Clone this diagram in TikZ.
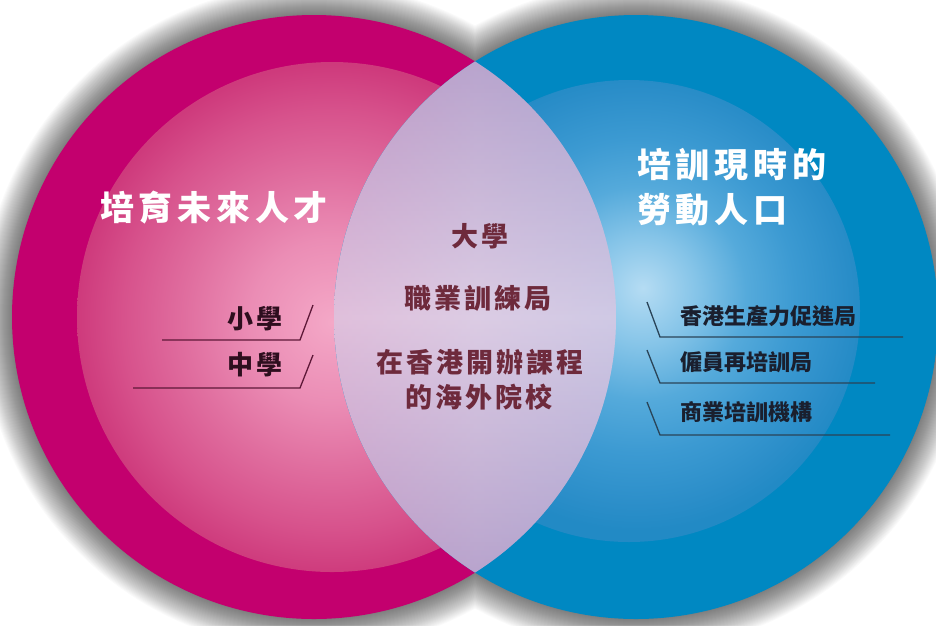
\documentclass[tikz,border=0pt]{standalone}
\usepackage{fontspec}
\newfontfamily\cjk{Noto Sans CJK TC}
\definecolor{magOuter}{HTML}{C3006E}
\definecolor{pinkA}{HTML}{F4A8C7}
\definecolor{pinkB}{HTML}{EB8DB5}
\definecolor{pinkC}{HTML}{E06E9F}
\definecolor{pinkD}{HTML}{D7528C}
\definecolor{pinkE}{HTML}{CE3A7C}
\definecolor{blueOuter}{HTML}{0088C2}
\definecolor{blueA}{HTML}{B5DCF3}
\definecolor{blueB}{HTML}{85C4E8}
\definecolor{blueC}{HTML}{55AADB}
\definecolor{blueD}{HTML}{3C9AD2}
\definecolor{blueE}{HTML}{2B8EC9}
\definecolor{blueF}{HTML}{228AC5}
\definecolor{lavD}{HTML}{9C84BB}
\definecolor{lavL}{HTML}{DCCCE4}
\definecolor{lensPink}{HTML}{E8A8CC}
\definecolor{lensBlue}{HTML}{B8C4E6}
\definecolor{midText}{HTML}{6E2A3C}
\definecolor{leftText}{HTML}{2E0E1E}
\definecolor{rightText}{HTML}{1A1F2E}
\definecolor{leftLine}{HTML}{5E1838}
\definecolor{rightLine}{HTML}{2A4458}
\pgfdeclareradialshading{pinkglow}{\pgfpoint{0bp}{-0.5bp}}{color(0bp)=(pinkA); color(8bp)=(pinkB); color(14.5bp)=(pinkC); color(20.5bp)=(pinkD); color(25bp)=(pinkE); color(50bp)=(pinkE)}
\pgfdeclareradialshading{blueglow}{\pgfpoint{1.5bp}{2.5bp}}{color(0bp)=(blueA); color(6bp)=(blueB); color(11.5bp)=(blueC); color(17bp)=(blueD); color(22.5bp)=(blueE); color(25bp)=(blueF); color(50bp)=(blueF)}
\tikzset{
  ttl/.style={text=white, inner sep=0pt, font=\cjk\bfseries\fontsize{34}{40}\selectfont\addfontfeature{LetterSpace=14}},
  midlbl/.style={text=midText, inner sep=0pt, font=\cjk\bfseries\fontsize{27}{32}\selectfont\addfontfeature{LetterSpace=11}},
  leftlbl/.style={text=leftText, inner sep=0pt, font=\cjk\bfseries\fontsize{26}{30}\selectfont\addfontfeature{LetterSpace=12}},
  rightlbl/.style={text=rightText, inner sep=0pt, font=\cjk\bfseries\fontsize{22}{26}\selectfont},
  leftrule/.style={draw=leftLine, line width=1.3pt},
  rightrule/.style={draw=rightLine, line width=1.3pt}
}
\begin{document}
\begin{tikzpicture}[x=1pt,y=-1pt]
\fill[white] (0,0) rectangle (936,625);
\useasboundingbox (0,0) rectangle (936,625);
\coordinate (L) at (314,317);
\coordinate (R) at (636,317);
% soft shadow
\foreach \k in {1,...,32} {
  \fill[black,opacity=0.018] (L) circle[radius=301+\k] (R) circle[radius=301+\k];
}
% left circle
\fill[magOuter] (L) circle[radius=302];
\shade[shading=pinkglow] (332,317) circle[radius=255];
% right circle
\fill[blueOuter] (R) circle[radius=302];
\shade[shading=blueglow] (629,311) circle[radius=231];
% lens
\begin{scope}
  \clip (L) circle[radius=302];
  \clip (R) circle[radius=302];
  \shade[top color=lavD, bottom color=lavD, middle color=lavL] (334,15) rectangle (616,619);
  \shade[left color=lensPink, right color=lensBlue, middle color=lavL, opacity=0.35] (334,15) rectangle (616,619);
\end{scope}
% titles
\node[ttl] (tl) at (214,207.5) {培育未來人才};
\node[ttl, anchor=west] (tr1) at (637,165) {培訓現時的};
\node[ttl, anchor=west] (tr2) at (637,210) {勞動人口};
% middle
\node[midlbl] (m1) at (480,236) {大學};
\node[midlbl] (m2) at (478,298) {職業訓練局};
\node[midlbl] (m3) at (480,362) {在香港開辦課程};
\node[midlbl] (m4) at (479,397) {的海外院校};
% left items
\node[leftlbl, anchor=east] (l1) at (283,319) {小學};
\node[leftlbl, anchor=east] (l2) at (283,365) {中學};
\coordinate (l1a) at (162,340);
\coordinate (l1b) at (300,340);
\coordinate (l1c) at (313,305);
\coordinate (l2a) at (133,388);
\coordinate (l2b) at (300,388);
\coordinate (l2c) at (313,355);
\draw[leftrule] (l1a) -- (l1b) -- (l1c);
\draw[leftrule] (l2a) -- (l2b) -- (l2c);
% right items
\node[rightlbl, anchor=west] (r1) at (680,316) {香港生產力促進局};
\node[rightlbl, anchor=west] (r2) at (680,362) {僱員再培訓局};
\node[rightlbl, anchor=west] (r3) at (680,412) {商業培訓機構};
\coordinate (r1a) at (647,302);
\coordinate (r1b) at (660,337);
\coordinate (r1c) at (903,337);
\coordinate (r2a) at (647,350);
\coordinate (r2b) at (660,383);
\coordinate (r2c) at (875,383);
\coordinate (r3a) at (647,402);
\coordinate (r3b) at (660,435);
\coordinate (r3c) at (890,435);
\draw[rightrule] (r1a) -- (r1b) -- (r1c);
\draw[rightrule] (r2a) -- (r2b) -- (r2c);
\draw[rightrule] (r3a) -- (r3b) -- (r3c);
\end{tikzpicture}
\end{document}
